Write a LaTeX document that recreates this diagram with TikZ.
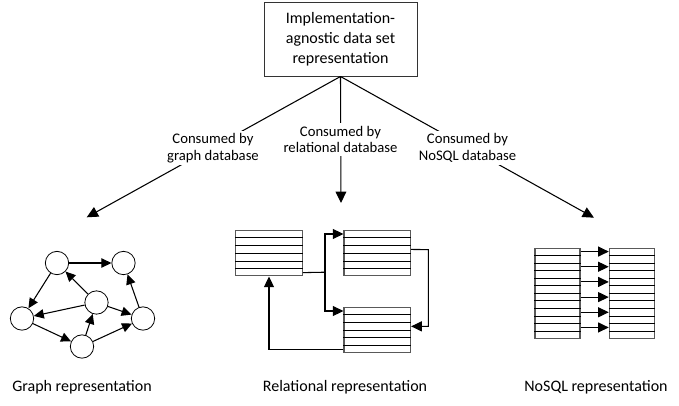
\documentclass[tikz,border=0pt]{standalone}
\usepackage{fontspec}
\setmainfont{Carlito}
\usetikzlibrary{arrows.meta,calc}
\tikzset{
  px/.style={x=0.75pt,y=-0.75pt},
  topbox/.style={draw=black!80,line width=0.7pt,minimum width=114.75pt,minimum height=55.5pt,align=center,inner sep=0pt,font=\fontsize{12}{15}\selectfont},
  lbl/.style={fill=white,align=center,inner sep=2pt,font=\fontsize{11}{12.5}\selectfont},
  bottomlbl/.style={anchor=base,inner sep=0pt,font=\fontsize{12}{15}\selectfont},
  mainarr/.style={line width=0.8pt,-{Triangle[length=8.5pt,width=8pt]}},
  gnode/.style={circle,draw,line width=0.6pt,minimum size=17.5pt,inner sep=0pt},
  garr/.style={line width=0.8pt,-{Triangle[length=7.5pt,width=7pt]}},
  tarr/.style={line width=0.8pt,-{Triangle[length=8pt,width=7.5pt]}},
  tbl/.style={draw=black!65,line width=0.8pt,inner sep=0pt},
  rowline/.style={line width=0.6pt}
}
\newcommand\dbtable[6]{%
  \node[tbl,minimum width={#4*0.75pt},minimum height={#5*0.75pt}] (#1) at (#2,#3) {};
  \pgfmathtruncatemacro\dbrowsm{#6-1}
  \foreach \k in {1,...,\dbrowsm}{
    \draw[rowline] ($(#1.north west)!{\k/#6}!(#1.south west)$) -- ($(#1.north east)!{\k/#6}!(#1.south east)$);
  }
  \foreach \k in {1,...,#6}{
    \coordinate (#1-w\k) at ($(#1.north west)!{(\k-0.5)/#6}!(#1.south west)$);
    \coordinate (#1-e\k) at ($(#1.north east)!{(\k-0.5)/#6}!(#1.south east)$);
  }
}
\begin{document}
\begin{tikzpicture}[px]
\useasboundingbox (0,0) rectangle (679,405);
% top box
\node[topbox] (top) at (340.5,39) {Implementation-\\agnostic data set\\representation};
\coordinate (gtip) at (86.7,217.3);
\coordinate (rtip) at (341,203);
\coordinate (ntip) at (594,217.7);
\draw[mainarr] (top.south) -- (gtip);
\draw[mainarr] (top.south) -- (rtip);
\draw[mainarr] (top.south) -- (ntip);
\node[lbl] (lg) at (213,148) {Consumed by\\graph database};
\node[lbl] (lr) at (340.5,139.5) {Consumed by\\relational database};
\node[lbl] (ln) at (467.5,148) {Consumed by\\NoSQL database};
% graph
\node[gnode] (a) at (57,263) {};
\node[gnode] (b) at (123.5,263) {};
\node[gnode] (c) at (22,318.5) {};
\node[gnode] (d) at (96.5,302.5) {};
\node[gnode] (e) at (143,318.5) {};
\node[gnode] (f) at (82,346.5) {};
\draw[garr] (a) -- (b);
\draw[garr] (a) -- (c);
\draw[garr] (d) -- (a);
\draw[garr] (d) -- (c);
\draw[garr] (d) -- (e);
\draw[garr] (c) -- (f);
\draw[garr] (f) -- (d);
\draw[garr] (f) -- (e);
\draw[garr] (e) -- (b);
% relational
\dbtable{t1}{269}{253.3}{66.6}{45.3}{6}
\dbtable{t2}{377.3}{253.3}{66.6}{45.3}{6}
\dbtable{t3}{377.3}{330.2}{66.6}{45}{6}
\coordinate (jn) at (325,272.2);
\draw[line width=0.8pt] (t1-e6) -- (jn);
\draw[tarr] (jn) |- (t2-w1);
\draw[tarr] (jn) |- (t3-w1);
\coordinate (rr) at (428.3,249.6);
\draw[tarr] (t2-e3) -- (rr) |- (t3-e3);
\draw[tarr] (t3-w6) -| (t1.south);
% nosql
\dbtable{n1}{557.5}{293.3}{45}{90}{12}
\dbtable{n2}{631.8}{293.3}{45}{90}{12}
\foreach \k in {1,3,5,7,9,11}{
  \draw[tarr] (n1-e\k) -- (n2-w\k);
}
% bottom labels
\node[bottomlbl] (bg) at (82,391.7) {Graph representation};
\node[bottomlbl] (br) at (345,391.7) {Relational representation};
\node[bottomlbl] (bn) at (596,391.7) {NoSQL representation};
\end{tikzpicture}
\end{document}
